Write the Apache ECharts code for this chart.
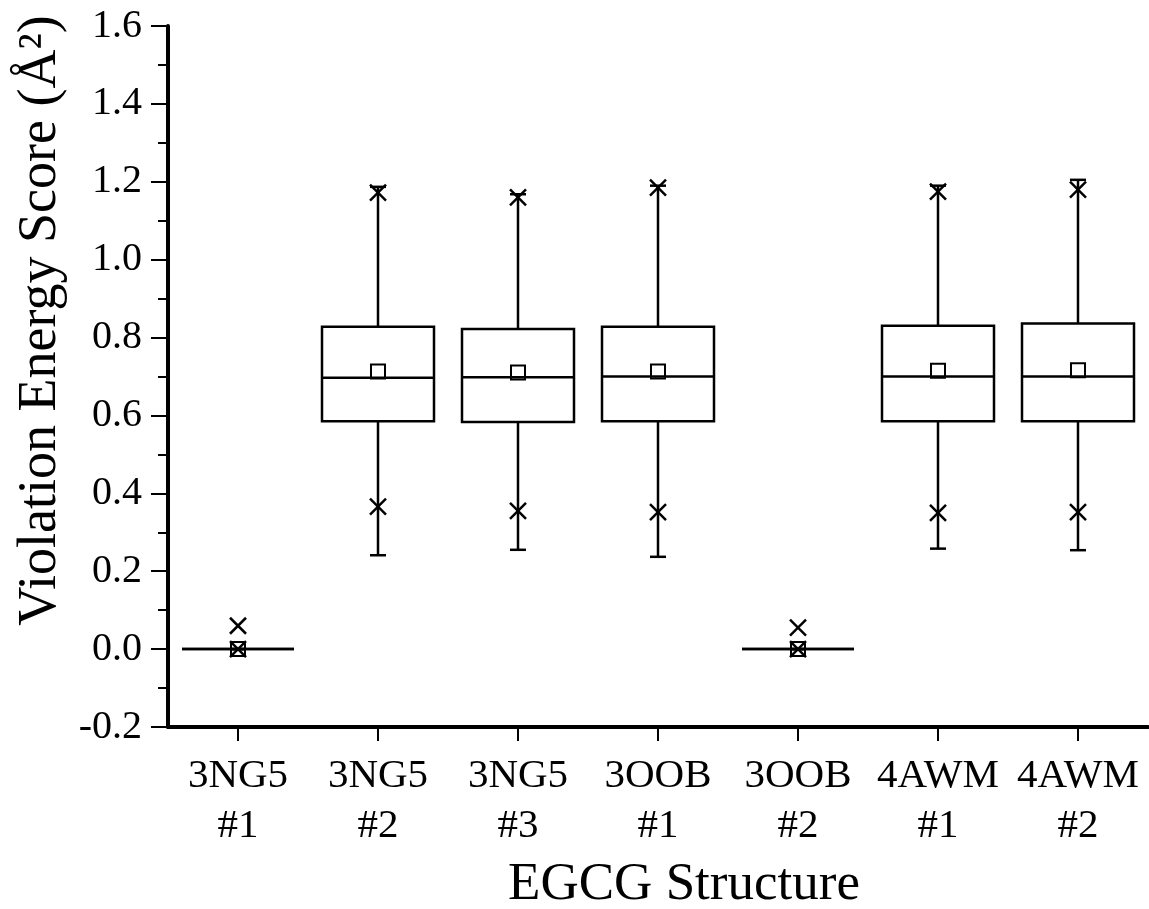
<!DOCTYPE html>
<html>
<head>
<meta charset="utf-8">
<style>
  html, body { margin: 0; padding: 0; background: #fff; }
  #chart { width: 1149px; height: 909px; }
</style>
<script src="https://cdn.jsdelivr.net/npm/echarts@6/dist/echarts.min.js"></script>
</head>
<body>
<div id="chart"></div>
<script>
// ---- Data ----
const categories = ['3NG5\n#1', '3NG5\n#2', '3NG5\n#3', '3OOB\n#1', '3OOB\n#2', '4AWM\n#1', '4AWM\n#2'];
const minValues    = [0, 0.241, 0.255, 0.237, 0, 0.258, 0.254];
const q1Values     = [0, 0.585, 0.583, 0.585, 0, 0.585, 0.585];
const medianValues = [0, 0.697, 0.698, 0.700, 0, 0.700, 0.700];
const q3Values     = [0, 0.828, 0.822, 0.828, 0, 0.830, 0.836];
const maxValues    = [0, 1.187, 1.168, 1.190, 0, 1.190, 1.205];
const p1Values     = [0, 0.366, 0.355, 0.352, 0, 0.350, 0.352];
const p99Values    = [0.060, 1.172, 1.160, 1.185, 0.055, 1.175, 1.180];
const meanValues   = [0, 0.713, 0.710, 0.713, 0, 0.715, 0.716];
const yTicks = [-0.2, 0.0, 0.2, 0.4, 0.6, 0.8, 1.0, 1.2, 1.4, 1.6];

const rows = categories.map((c, i) => [i, minValues[i], q1Values[i], medianValues[i], q3Values[i], maxValues[i], p1Values[i], p99Values[i], meanValues[i]]);

const FONT = '"Liberation Serif", "Times New Roman", "DejaVu Serif", serif';
const LW = 2.5;

function renderItem(params, api) {
  const i = api.value(0);
  const x = api.coord([i, 0])[0];
  const band = api.size([1, 0])[0];
  const w = band * 0.8;
  const y = v => api.coord([i, v])[1];
  const vmin = api.value(1), q1 = api.value(2), med = api.value(3), q3 = api.value(4), vmax = api.value(5);
  const p1 = api.value(6), p99 = api.value(7), mean = api.value(8);
  const st = { stroke: '#000', lineWidth: LW, fill: null };
  const cap = 8, xs = 8, ms = 7;
  const line = (x1, y1, x2, y2) => ({ type: 'line', shape: { x1, y1, x2, y2 }, style: st });
  const children = [];
  children.push(line(x, y(vmax), x, y(q3)));
  children.push(line(x, y(q1), x, y(vmin)));
  children.push(line(x - cap, y(vmax), x + cap, y(vmax)));
  children.push(line(x - cap, y(vmin), x + cap, y(vmin)));
  children.push({ type: 'rect', shape: { x: x - w / 2, y: y(q3), width: w, height: y(q1) - y(q3) }, style: { stroke: '#000', lineWidth: LW, fill: '#fff' } });
  children.push(line(x - w / 2, y(med), x + w / 2, y(med)));
  children.push({ type: 'rect', shape: { x: x - ms, y: y(mean) - ms, width: 2 * ms, height: 2 * ms }, style: { stroke: '#000', lineWidth: 2, fill: null } });
  [p1, p99].forEach(v => {
    const yy = y(v);
    children.push(line(x - xs, yy - xs, x + xs, yy + xs));
    children.push(line(x - xs, yy + xs, x + xs, yy - xs));
  });
  return { type: 'group', children };
}

const chart = echarts.init(document.getElementById('chart'), null, { renderer: 'canvas' });
chart.setOption({
  backgroundColor: '#fff',
  animation: false,
  grid: { left: 168, right: 1, top: 26, bottom: 182, containLabel: false, outerBoundsMode: 'none' },
  xAxis: {
    type: 'category',
    data: categories,
    boundaryGap: true,
    name: 'EGCG Structure',
    nameLocation: 'middle',
    nameGap: 132,
    nameTextStyle: { fontFamily: FONT, fontSize: 53, color: '#000', padding: [0, 0, 0, 52] },
    axisLine: { show: true, onZero: false, lineStyle: { color: '#000', width: 4 } },
    axisTick: { show: true, alignWithLabel: true, inside: false, length: 14, lineStyle: { color: '#000', width: 2 } },
    axisLabel: { fontFamily: FONT, fontSize: 41, color: '#000', lineHeight: 50, margin: 24, interval: 0 },
    splitLine: { show: false }
  },
  yAxis: {
    type: 'value',
    min: yTicks[0],
    max: yTicks[yTicks.length - 1],
    interval: 0.2,
    name: 'Violation Energy Score (Å²)',
    nameLocation: 'middle',
    nameGap: 100,
    nameTextStyle: { fontFamily: FONT, fontSize: 54, color: '#000', padding: [0, 0, 0, 112] },
    axisLine: { show: true, onZero: false, lineStyle: { color: '#000', width: 4 } },
    axisTick: { show: true, inside: false, length: 17, lineStyle: { color: '#000', width: 2 } },
    minorTick: { show: true, splitNumber: 2, length: 10, lineStyle: { color: '#000', width: 2 } },
    axisLabel: { fontFamily: FONT, fontSize: 40, color: '#000', margin: 26, formatter: v => v.toFixed(1) },
    splitLine: { show: false },
    minorSplitLine: { show: false }
  },
  series: [{
    type: 'custom',
    renderItem: renderItem,
    encode: { x: 0, y: [1, 2, 3, 4, 5, 6, 7, 8] },
    data: rows,
    clip: false
  }]
});
</script>
</body>
</html>
